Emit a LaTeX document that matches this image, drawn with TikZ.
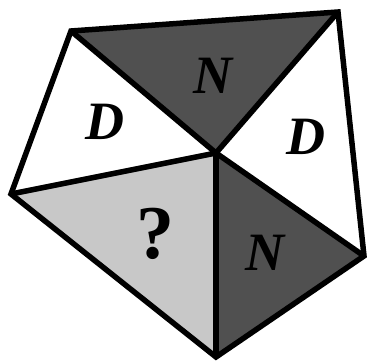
\documentclass[tikz,border=0pt]{standalone}
\usepackage{fontspec}
\setmainfont{Liberation Serif}
\definecolor{darkfill}{RGB}{80,80,80}
\definecolor{lightfill}{RGB}{200,200,200}
\begin{document}
\begin{tikzpicture}[x=1pt,y=-1pt,
  edge/.style={line width=5.5pt,line join=miter},
  lbl/.style={font=\fontsize{54}{54}\selectfont\bfseries\itshape,inner sep=0pt},
  qlbl/.style={font=\fontsize{76}{76}\selectfont\bfseries,inner sep=0pt}]
\useasboundingbox (0,0) rectangle (370,362);
\coordinate (C) at (216,153);
\coordinate (A) at (71,31);
\coordinate (B) at (338,12);
\coordinate (E) at (364,256);
\coordinate (F) at (216,357);
\coordinate (G) at (11,194);
\fill[darkfill] (C) -- (A) -- (B) -- cycle;
\fill[darkfill] (C) -- (E) -- (F) -- cycle;
\fill[lightfill] (C) -- (F) -- (G) -- cycle;
\draw[edge] (A) -- (B) -- (E) -- (F) -- (G) -- cycle;
\draw[edge] (C) -- (A);
\draw[edge] (C) -- (B);
\draw[edge] (C) -- (E);
\draw[edge] (C) -- (F);
\draw[edge] (C) -- (G);
\node[lbl] (n1) at (213,76) {N};
\node[lbl] (d1) at (105,122) {D};
\node[lbl] (d2) at (306,137) {D};
\node[qlbl] (q) at (155,234) {?};
\node[lbl] (n2) at (265,253) {N};
\end{tikzpicture}
\end{document}
